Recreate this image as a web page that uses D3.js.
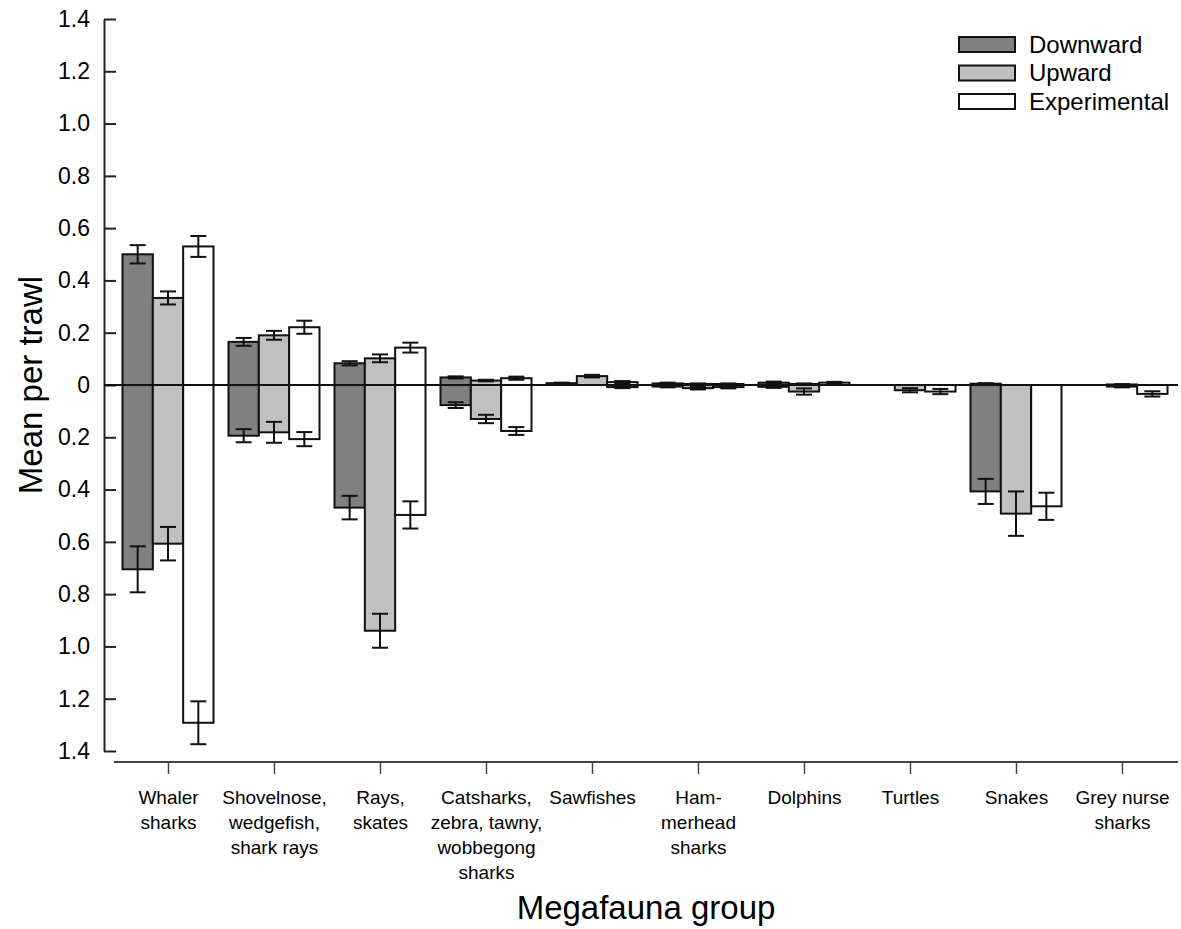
<!DOCTYPE html>
<html>
<head>
<meta charset="utf-8">
<script src="https://cdn.jsdelivr.net/npm/d3@7"></script>
<style>
  body { margin: 0; background: #fff; }
  text { font-family: Arial, "Liberation Sans", sans-serif; fill: #000; }
</style>
</head>
<body>
<script>
// categories, one array of lines per tick label
const categories = [
  ["Whaler", "sharks"],
  ["Shovelnose,", "wedgefish,", "shark rays"],
  ["Rays,", "skates"],
  ["Catsharks,", "zebra, tawny,", "wobbegong", "sharks"],
  ["Sawfishes"],
  ["Ham-", "merhead", "sharks"],
  ["Dolphins"],
  ["Turtles"],
  ["Snakes"],
  ["Grey nurse", "sharks"]
];
const series = ["Downward", "Upward", "Experimental"];
const fills = ["#808080", "#c0c0c0", "#ffffff"];

// positive part (above zero) and its error
const downPos    = [0.500, 0.165, 0.083, 0.029, 0.007, 0.006, 0.009, 0, 0.005, 0];
const downPosErr = [0.035, 0.015, 0.008, 0.004, 0.002, 0.003, 0.004, 0, 0.002, 0];
const upPos      = [0.333, 0.190, 0.102, 0.017, 0.034, 0.004, 0.004, 0, 0, 0.002];
const upPosErr   = [0.025, 0.017, 0.015, 0.003, 0.005, 0.002, 0.002, 0, 0, 0.001];
const expPos     = [0.530, 0.221, 0.143, 0.026, 0.011, 0.004, 0.009, 0, 0, 0];
const expPosErr  = [0.040, 0.025, 0.019, 0.006, 0.004, 0.002, 0.003, 0, 0, 0];

// negative part (below zero) and its error
const downNeg    = [-0.705, -0.194, -0.469, -0.077, 0, -0.006, -0.007, 0, -0.407, 0];
const downNegErr = [0.088, 0.025, 0.045, 0.011, 0, 0.003, 0.004, 0, 0.048, 0];
const upNeg      = [-0.607, -0.181, -0.940, -0.130, 0, -0.012, -0.025, -0.020, -0.492, -0.006];
const upNegErr   = [0.064, 0.040, 0.065, 0.016, 0, 0.005, 0.012, 0.008, 0.085, 0.003];
const expNeg     = [-1.292, -0.207, -0.497, -0.176, -0.008, -0.008, 0, -0.025, -0.464, -0.034];
const expNegErr  = [0.082, 0.027, 0.052, 0.015, 0.004, 0.005, 0, 0.010, 0.052, 0.010];

const yTicks = [-1.4, -1.2, -1.0, -0.8, -0.6, -0.4, -0.2, 0, 0.2, 0.4, 0.6, 0.8, 1.0, 1.2, 1.4];

const width = 1181, height = 929;
const svg = d3.select("body").append("svg")
  .attr("width", width).attr("height", height);

const x = d3.scalePoint()
  .domain(d3.range(categories.length))
  .range([115, 1175])
  .padding(0.5);

const xs = d3.scaleBand()
  .domain(series)
  .range([-45.5, 45.5]);

const y = d3.scaleLinear()
  .domain([-1.4, 1.4])
  .range([751, 19]);

// build rows for drawing
const pos = [downPos, upPos, expPos], posErr = [downPosErr, upPosErr, expPosErr];
const neg = [downNeg, upNeg, expNeg], negErr = [downNegErr, upNegErr, expNegErr];
const rows = [];
categories.forEach((c, i) => {
  series.forEach((s, j) => {
    if (pos[j][i] > 0) rows.push({i, s, j, v: pos[j][i], e: posErr[j][i]});
    if (neg[j][i] < 0) rows.push({i, s, j, v: neg[j][i], e: negErr[j][i]});
  });
});

// y axis
svg.append("g")
  .attr("transform", "translate(104,0)")
  .call(d3.axisLeft(y).tickValues(yTicks).tickSizeInner(-12).tickSizeOuter(0).tickPadding(14)
    .tickFormat(d => d === 0 ? "0" : Math.abs(d).toFixed(1)))
  .call(g => g.selectAll("path, line").attr("stroke", "#222").attr("stroke-width", 2))
  .call(g => g.selectAll("text").attr("font-size", 23).attr("font-family", "Arial, 'Liberation Sans', sans-serif"));

// bars
svg.append("g")
  .selectAll("rect")
  .data(rows)
  .join("rect")
    .attr("x", d => x(d.i) + xs(d.s))
    .attr("width", xs.bandwidth())
    .attr("y", d => y(Math.max(0, d.v)))
    .attr("height", d => Math.abs(y(d.v) - y(0)))
    .attr("fill", d => fills[d.j])
    .attr("stroke", "#111")
    .attr("stroke-width", 2);

// zero line
svg.append("line")
  .attr("x1", 104).attr("x2", 1178)
  .attr("y1", y(0)).attr("y2", y(0))
  .attr("stroke", "#111").attr("stroke-width", 2);

// error bars
const eb = svg.append("g").attr("stroke", "#111").attr("stroke-width", 2)
  .selectAll("g")
  .data(rows.filter(d => d.e > 0))
  .join("g")
    .attr("transform", d => `translate(${x(d.i) + xs(d.s) + xs.bandwidth() / 2},0)`);
eb.append("line")
  .attr("y1", d => y(d.v - d.e)).attr("y2", d => y(d.v + d.e));
eb.append("line")
  .attr("x1", -8).attr("x2", 8)
  .attr("y1", d => y(d.v - d.e)).attr("y2", d => y(d.v - d.e));
eb.append("line")
  .attr("x1", -8).attr("x2", 8)
  .attr("y1", d => y(d.v + d.e)).attr("y2", d => y(d.v + d.e));

// x axis
const xAxis = svg.append("g")
  .attr("transform", "translate(0,762)")
  .call(d3.axisBottom(x).tickSize(12).tickSizeOuter(0).tickFormat(""))
  .call(g => g.selectAll("line").attr("stroke", "#444").attr("stroke-width", 1.5))
  .call(g => g.select(".domain").attr("d", "M114,0H1178").attr("stroke", "#444").attr("stroke-width", 2));

xAxis.selectAll(".tick").each(function(d) {
  const t = d3.select(this).append("text")
    .attr("text-anchor", "middle")
    .attr("font-size", 19)
    .attr("fill", "#000");
  categories[d].forEach((line, k) => {
    t.append("tspan").attr("x", 0).attr("y", 42 + k * 25).text(line);
  });
});

// axis titles
svg.append("text")
  .attr("x", 646).attr("y", 919)
  .attr("text-anchor", "middle")
  .attr("font-size", 33)
  .text("Megafauna group");

svg.append("text")
  .attr("transform", "translate(42,385) rotate(-90)")
  .attr("text-anchor", "middle")
  .attr("font-size", 33)
  .text("Mean per trawl");

// legend
const legend = svg.append("g")
  .selectAll("g")
  .data(series)
  .join("g")
    .attr("transform", (d, k) => `translate(959,${37 + k * 28.5})`);
legend.append("rect")
  .attr("width", 56).attr("height", 15)
  .attr("fill", (d, k) => fills[k])
  .attr("stroke", "#111").attr("stroke-width", 2);
legend.append("text")
  .attr("x", 70).attr("y", 15.5)
  .attr("font-size", 24)
  .text(d => d);
</script>
</body>
</html>
